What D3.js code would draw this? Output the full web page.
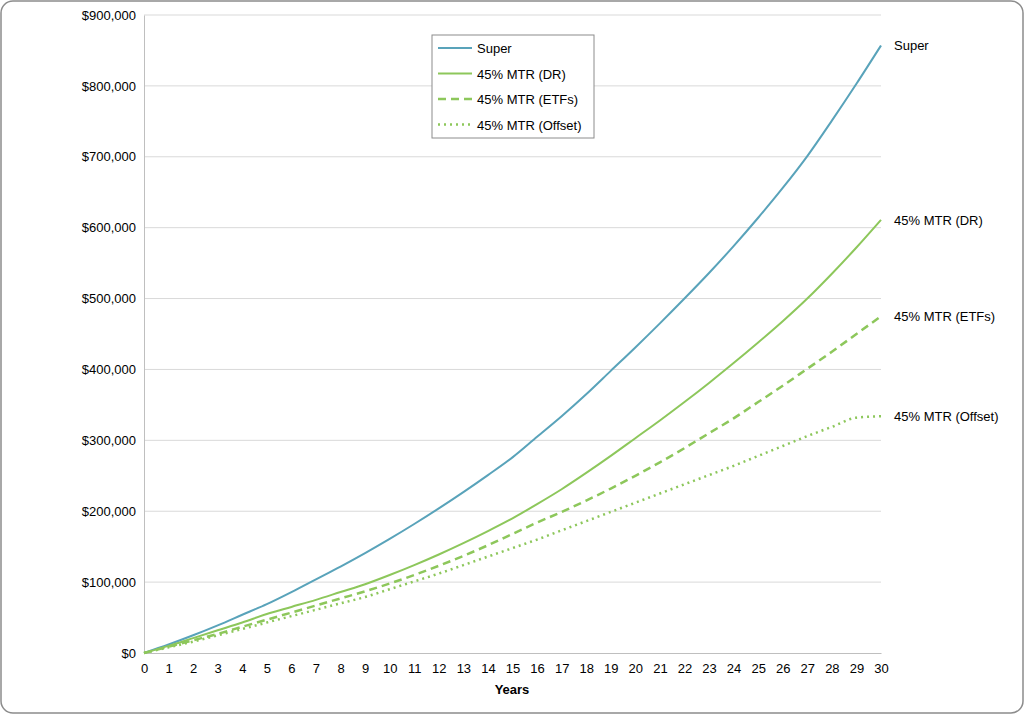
<!DOCTYPE html>
<html><head><meta charset="utf-8">
<script src="https://cdn.jsdelivr.net/npm/d3@7"></script>
<style>body{margin:0;background:#fff;font-family:"Liberation Sans",Arial,sans-serif}</style>
</head><body><div id="chart"></div>
<script>
// Data ($ thousands per year)
const years = d3.range(0, 31);
const superVals = [0,12,25,39,54,69,86,104,122,141,161,182,204,227,251,276,305,334,365,398,431,465,500,536,574,614,656,701,751,803,857];
const drVals = [0,10,21,32,43,55,65,75,86,97,110,124,139,155,172,190,210,231,254,278,303,328,354,381,409,438,468,500,535,572,611];
const etfVals = [0,9,18,27,37,47,57,67,77,87,98,110,123,137,152,168,184,199,215,232,250,269,289,310,331,354,377,401,425,450,475];
const offsetVals = [0,8,16,25,34,43,52,61,70,79,90,101,112,124,136,148,160,173,186,199,212,225,238,251,264,278,292,306,319,332,336];
const yTicks = [0,100000,200000,300000,400000,500000,600000,700000,800000,900000];
offsetVals[30] = 334;

const series = [
  {name: "Super", vals: superVals, color: "#59a3ba", dash: null},
  {name: "45% MTR (DR)", vals: drVals, color: "#8dc75b", dash: null},
  {name: "45% MTR (ETFs)", vals: etfVals, color: "#8dc75b", dash: "8,5"},
  {name: "45% MTR (Offset)", vals: offsetVals, color: "#8dc75b", dash: "2,4"}
];

const W = 1024, H = 714;
const svg = d3.select("#chart").append("svg").attr("width", W).attr("height", H);
svg.append("rect").attr("x", 1).attr("y", 1).attr("width", W - 2).attr("height", H - 2)
  .attr("rx", 12).attr("fill", "#fff").attr("stroke", "#8c8c8c").attr("stroke-width", 1.5);

const x = d3.scaleLinear().domain([0, 30]).range([144, 881]);
const y = d3.scaleLinear().domain([0, 900000]).range([653, 15]);

// gridlines
svg.append("g").selectAll("line").data(yTicks.slice(1)).enter().append("line")
  .attr("x1", 144).attr("x2", 881).attr("y1", d => y(d)).attr("y2", d => y(d))
  .attr("stroke", "#d9d9d9");

// y axis
const ya = svg.append("g").attr("transform", "translate(144,0)")
  .call(d3.axisLeft(y).tickValues(yTicks).tickSize(0).tickPadding(8).tickFormat(d => "$" + d3.format(",")(d)));
ya.select(".domain").attr("stroke", "#bfbfbf");
ya.selectAll("text").attr("font-size", 13).attr("fill", "#000").attr("font-family", "Liberation Sans, Arial");

// x axis
const xa = svg.append("g").attr("transform", "translate(0,653)")
  .call(d3.axisBottom(x).tickValues(years).tickSize(0).tickPadding(11).tickFormat(d3.format("d")));
xa.select(".domain").attr("stroke", "#bfbfbf");
xa.selectAll("text").attr("font-size", 13).attr("fill", "#000").attr("font-family", "Liberation Sans, Arial");
svg.append("text").attr("x", 512).attr("y", 694).attr("text-anchor", "middle")
  .attr("font-size", 13).attr("font-weight", "bold").text("Years");

// lines
const line = d3.line().x((d, i) => x(years[i])).y(d => y(d * 1000)).curve(d3.curveMonotoneX);
series.forEach(s => {
  svg.append("path").datum(s.vals).attr("d", line).attr("fill", "none")
    .attr("stroke", s.color).attr("stroke-width", s.dash ? 2.5 : 2)
    .attr("stroke-dasharray", s.dash);
  svg.append("text").attr("x", 894).attr("y", y(s.vals[30] * 1000) + 5)
    .attr("font-size", 13).text(s.name);
});

// legend
const lg = svg.append("g").attr("transform", "translate(432,35)");
lg.append("rect").attr("width", 162).attr("height", 103).attr("fill", "#fff").attr("stroke", "#8c8c8c");
series.forEach((s, i) => {
  const yy = 13 + i * 25.5;
  lg.append("line").attr("x1", 6).attr("x2", 40).attr("y1", yy).attr("y2", yy)
    .attr("stroke", s.color).attr("stroke-width", s.dash ? 2.5 : 2).attr("stroke-dasharray", s.dash);
  lg.append("text").attr("x", 45).attr("y", yy + 5).attr("font-size", 13).text(s.name);
});
</script></body></html>
